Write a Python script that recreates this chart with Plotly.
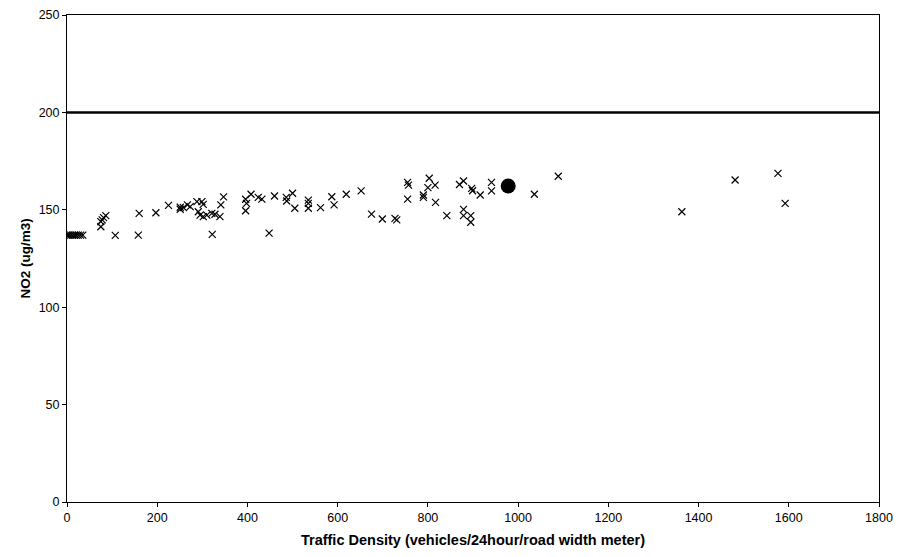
import plotly.graph_objects as go

# Scatter data: traffic density vs NO2
density = [0, 4, 8, 12, 16, 20, 25, 30, 35,
           75, 75, 78, 81, 86, 107, 158, 160, 197, 225, 251, 251,
           258, 267, 273, 288, 299, 302, 291, 295, 302, 310, 321, 328, 339, 341, 347, 322,
           396, 398, 396, 408, 424, 432, 460, 486, 487, 500, 505, 535, 535, 448,
           535, 562, 587, 592, 619, 652, 675, 699, 727, 731,
           755, 757, 755, 790, 790, 803, 800,
           816, 817, 842, 870, 879, 897, 899, 916, 941, 941, 879, 879, 895, 895,
           1036, 1089, 1363, 1481, 1576, 1592]
no2 = [137, 137, 137, 137, 137, 137, 137, 137, 137,
       141.3, 143.9, 144.8, 146.0, 147.0, 136.9, 137.0, 148.2, 148.5, 152.3, 151.3, 150.3,
       151.1, 152.5, 151.6, 154.2, 154.2, 152.8, 149.0, 147.3, 146.5, 147.3, 148.2, 147.7, 146.5, 152.5, 156.6, 137.4,
       155.4, 153.3, 149.5, 158.0, 156.4, 155.5, 157.1, 156.4, 154.5, 158.5, 150.8, 153.3, 150.8, 138.0,
       155.0, 151.1, 156.7, 152.5, 158.0, 159.7, 147.8, 145.3, 145.6, 144.8,
       164.1, 162.7, 155.5, 157.6, 156.4, 166.2, 161.4,
       162.7, 153.8, 147.0, 163.0, 164.8, 161.0, 159.8, 157.6, 164.1, 159.7, 150.2, 147.0, 147.0, 143.6,
       158.0, 167.2, 149.0, 165.3, 168.7, 153.3]

# Highlighted point
hl_density = [978]
hl_no2 = [162.2]

# Limit value line
limit_x = [0, 1800]
limit_y = [200, 200]

x_ticks = [0, 200, 400, 600, 800, 1000, 1200, 1400, 1600, 1800]
y_ticks = [0, 50, 100, 150, 200, 250]

FONT = "Liberation Sans, Arial"

fig = go.Figure()
fig.add_trace(go.Scatter(x=limit_x, y=limit_y, mode="lines",
                         line=dict(color="black", width=2.5), showlegend=False,
                         hoverinfo="skip"))
fig.add_trace(go.Scatter(x=density, y=no2, mode="markers",
                         marker=dict(symbol="x-thin", size=7,
                                     line=dict(color="black", width=1.2)),
                         showlegend=False))
fig.add_trace(go.Scatter(x=hl_density, y=hl_no2, mode="markers",
                         marker=dict(symbol="circle", size=15, color="black"),
                         showlegend=False))

axis_common = dict(showline=True, linecolor="black", linewidth=1, mirror=True,
                   ticks="outside", ticklen=4, tickcolor="black", showgrid=False,
                   zeroline=False, automargin=False,
                   tickfont=dict(family=FONT, size=12.5, color="black"))

fig.update_xaxes(range=[0, 1800], tickvals=x_ticks,
                 title=dict(text="<b>Traffic Density (vehicles/24hour/road width meter)</b>",
                            font=dict(family=FONT, size=14.5, color="black"),
                            standoff=10),
                 **axis_common)
fig.update_yaxes(range=[0, 250], tickvals=y_ticks,
                 title=dict(text="<b>NO2 (ug/m3)</b>",
                            font=dict(family=FONT, size=13.5, color="black"),
                            standoff=4),
                 **axis_common)

fig.update_layout(width=901, height=557,
                  margin=dict(l=67, r=22, t=15, b=55),
                  plot_bgcolor="white", paper_bgcolor="white",
                  showlegend=False)

fig.write_html("out.html")
